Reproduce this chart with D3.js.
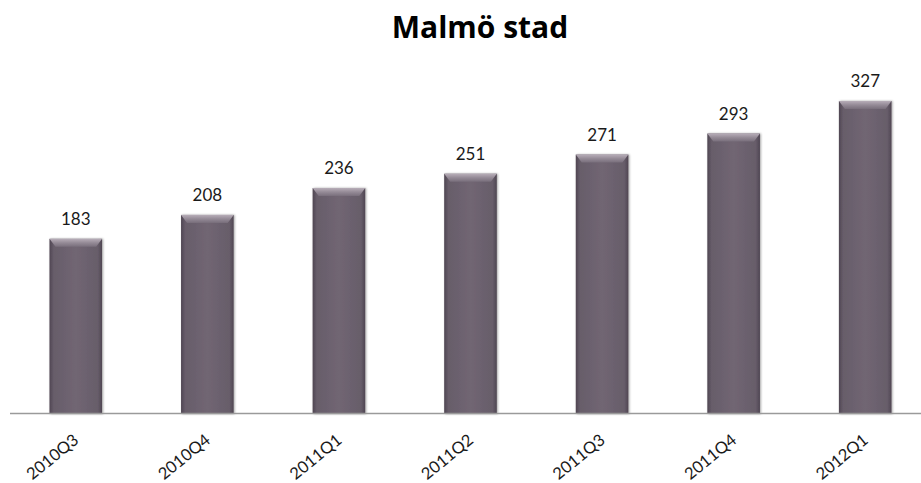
<!DOCTYPE html>
<html><head><meta charset="utf-8">
<script src="https://cdn.jsdelivr.net/npm/d3@7"></script>
<style>body{margin:0;background:#fff}svg{display:block}</style>
</head><body>
<svg id="c" width="921" height="483"></svg>
<script>
const categories = ["2010Q3","2010Q4","2011Q1","2011Q2","2011Q3","2011Q4","2012Q1"];
const values = [183,208,236,251,271,293,327];
const title = "Malmö stad";

const W=921,H=483;
const svg=d3.select("#c");
const x=d3.scaleBand().domain(categories).range([10,931]).paddingInner(0.6).paddingOuter(0.3);
const y=d3.scaleLinear().domain([0,350]).range([414,79]);

const defs=svg.append("defs");
const g1=defs.append("linearGradient").attr("id","body").attr("x1","0").attr("x2","1").attr("y1","0").attr("y2","0");
[[0,"#4f4652"],[0.08,"#675d6a"],[0.5,"#716673"],[0.92,"#675d6a"],[1,"#4f4652"]].forEach(s=>g1.append("stop").attr("offset",s[0]).attr("stop-color",s[1]));
const g2=defs.append("linearGradient").attr("id","bevel").attr("x1","0").attr("x2","0").attr("y1","0").attr("y2","1");
[[0,"#b7adb8"],[0.5,"#948a96"],[1,"#786e7b"]].forEach(s=>g2.append("stop").attr("offset",s[0]).attr("stop-color",s[1]));
const f=defs.append("filter").attr("id","sh").attr("x","-20%").attr("y","-5%").attr("width","140%").attr("height","110%");
f.append("feDropShadow").attr("dx",1).attr("dy",0).attr("stdDeviation",1.2).attr("flood-color","#000").attr("flood-opacity",0.35);

svg.append("text").attr("x",480).attr("y",38).attr("text-anchor","middle")
  .attr("font-family","Open Sans, sans-serif").attr("font-weight","bold").attr("font-size",30).attr("fill","#000").text(title);

const bars=svg.append("g").selectAll("g").data(values).join("g");
bars.append("rect").attr("x",(d,i)=>x(categories[i])).attr("y",d=>y(d)).attr("width",x.bandwidth())
  .attr("height",d=>y(0)-y(d)).attr("fill","url(#body)").attr("filter","url(#sh)");
bars.append("path").attr("d",(d,i)=>{const x0=x(categories[i]),x1=x0+x.bandwidth(),t=y(d);
  return `M${x0},${t}L${x1},${t}L${x1-6},${t+8}L${x0+6},${t+8}Z`;}).attr("fill","url(#bevel)");
bars.append("text").attr("x",(d,i)=>x(categories[i])+x.bandwidth()/2).attr("y",d=>y(d)-14)
  .attr("text-anchor","middle").attr("font-family","Lato, sans-serif").attr("font-size",17).attr("fill","#1a1a1a").text(d=>d);

svg.append("line").attr("x1",10).attr("x2",921).attr("y1",413.5).attr("y2",413.5).attr("stroke","#9a9a9a").attr("stroke-width",1.5);

const ax=d3.axisBottom(x).tickSize(0).tickPadding(0);
const axg=svg.append("g").attr("transform","translate(0,414)").call(ax);
axg.select(".domain").remove();
axg.selectAll("text").attr("font-family","Lato, sans-serif").attr("font-size",16.5).attr("fill","#1a1a1a")
  .attr("text-anchor","end").attr("dy",null).attr("y",null)
  .attr("transform","translate(4,28) rotate(-39)");
</script>
</body></html>
